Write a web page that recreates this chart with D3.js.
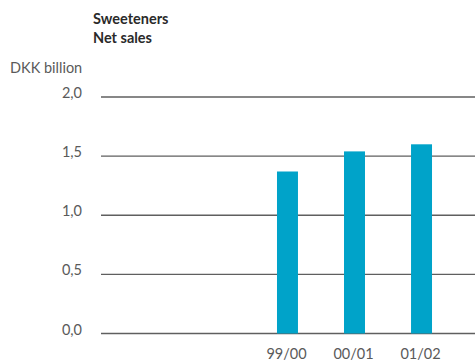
<!DOCTYPE html>
<html>
<head>
<meta charset="utf-8">
<script src="https://cdn.jsdelivr.net/npm/d3@7"></script>
<style>
  html, body { margin: 0; padding: 0; background: #fff; }
  svg { display: block; font-family: Lato, "Open Sans", sans-serif; }
</style>
</head>
<body>
<svg id="chart" width="475" height="361"></svg>
<script>
// Sweeteners net sales, DKK billion
const categories = ["99/00", "00/01", "01/02"];
const netSales = [1.37, 1.54, 1.60];
const yTicks = [0, 0.5, 1.0, 1.5, 2.0];
const yTickLabels = ["0,0", "0,5", "1,0", "1,5", "2,0"];

const svg = d3.select("#chart");

const y = d3.scaleLinear().domain([0, 2]).range([333.5, 97]);
const x = d3.scaleBand().domain(categories).range([254, 455]).paddingInner(0.687).paddingOuter(0.343);

// Gridlines
svg.append("g")
  .selectAll("line")
  .data(yTicks)
  .join("line")
  .attr("x1", 101).attr("x2", 475)
  .attr("y1", d => y(d)).attr("y2", d => y(d))
  .attr("stroke", "#5f5f5f")
  .attr("stroke-width", 1.4);

// Y tick labels
svg.append("g")
  .selectAll("text")
  .data(yTicks)
  .join("text")
  .attr("x", 82)
  .attr("y", d => y(d) + 1)
  .attr("text-anchor", "end")
  .attr("font-size", 14.5)
  .attr("fill", "#5a5a5a")
  .text((d, i) => yTickLabels[i]);

// Bars
svg.append("g")
  .selectAll("rect")
  .data(netSales)
  .join("rect")
  .attr("x", (d, i) => x(categories[i]))
  .attr("width", x.bandwidth())
  .attr("y", d => y(d))
  .attr("height", d => y(0) - y(d))
  .attr("fill", "#00a3c9");

// X labels
svg.append("g")
  .selectAll("text")
  .data(categories)
  .join("text")
  .attr("x", d => x(d) + x.bandwidth() / 2 - 1)
  .attr("y", 359)
  .attr("text-anchor", "middle")
  .attr("font-size", 14.5)
  .attr("fill", "#5a5a5a")
  .text(d => d);

// Title and unit
svg.append("text").attr("x", 93).attr("y", 24)
  .attr("font-size", 14.5).attr("font-weight", 700).attr("fill", "#2a2a2a").text("Sweeteners");
svg.append("text").attr("x", 93).attr("y", 43)
  .attr("font-size", 14.5).attr("font-weight", 700).attr("fill", "#2a2a2a").text("Net sales");
svg.append("text").attr("x", 10).attr("y", 73)
  .attr("font-size", 14.5).attr("fill", "#5a5a5a").text("DKK billion");
</script>
</body>
</html>
